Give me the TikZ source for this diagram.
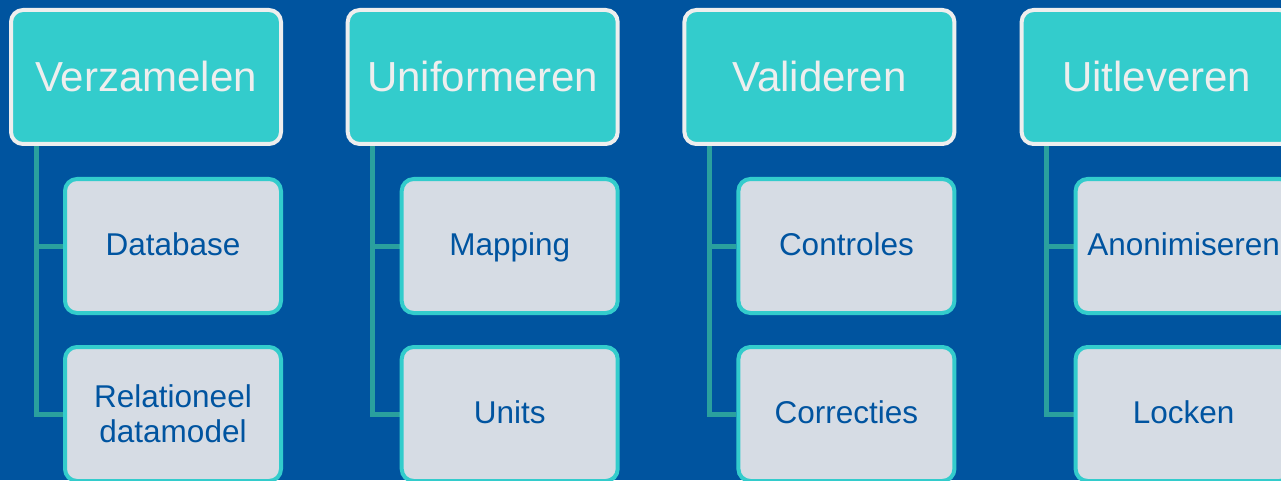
\documentclass[tikz,border=0pt]{standalone}
\usepackage{fontspec}
\setmainfont{Liberation Sans}
\usetikzlibrary{backgrounds}
\definecolor{bgblue}{RGB}{0,84,159}
\definecolor{teal1}{RGB}{51,204,204}
\definecolor{teal2}{RGB}{42,160,158}
\definecolor{offwhite}{RGB}{238,238,238}
\definecolor{childfill}{RGB}{214,220,228}
\definecolor{childtext}{RGB}{0,84,160}
\tikzset{
  headbox/.style={draw=offwhite, line width=4pt, fill=teal1, rounded corners=12pt,
    minimum width=270pt, minimum height=134pt, inner sep=0pt, text=offwhite,
    text height=30pt, text depth=1pt,
    font=\fontsize{42}{50}\selectfont},
  childbase/.style={draw=teal1, line width=4pt, fill=childfill, rounded corners=12pt,
    minimum width=216pt, minimum height=134pt, inner sep=0pt, text=childtext, align=center,
    font=\fontsize{31.5}{35}\selectfont},
  childbox/.style={childbase, text height=25pt, text depth=6pt},
  conn/.style={draw=teal2, line width=5pt}
}
\begin{document}
\begin{tikzpicture}[x=1pt,y=1pt]
\useasboundingbox (0,0) rectangle (1281,480);
\begin{scope}[on background layer]
\fill[bgblue] (0,0) rectangle (1281,480);
\end{scope}
% column 1
\node[headbox] (h1) at (146,403) {Verzamelen};
\node[childbox] (c1a) at (173,234) {Database};
\node[childbase] (c1b) at (173,66) {Relationeel\\datamodel};
% column 2
\node[headbox] (h2) at (482.7,403) {Uniformeren};
\node[childbox] (c2a) at (509.7,234) {Mapping};
\node[childbox] (c2b) at (509.7,66) {Units};
% column 3
\node[headbox] (h3) at (819.4,403) {Valideren};
\node[childbox] (c3a) at (846.4,234) {Controles};
\node[childbox] (c3b) at (846.4,66) {Correcties};
% column 4
\node[headbox] (h4) at (1156.6,403) {Uitleveren};
\node[childbox] (c4a) at (1183.6,234) {Anonimiseren};
\node[childbox] (c4b) at (1183.6,66) {Locken};
\begin{scope}[on background layer]
\foreach \i in {1,2,3,4}{
  \draw[conn] ([xshift=27pt]h\i.south west) |- (c\i a.west);
  \draw[conn] ([xshift=27pt]h\i.south west) |- (c\i b.west);
}
\end{scope}
\end{tikzpicture}
\end{document}
